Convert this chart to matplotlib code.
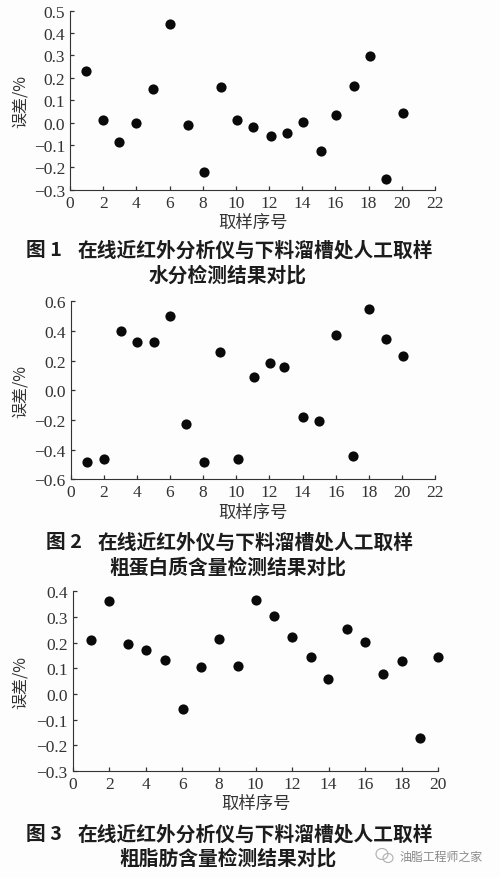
import matplotlib
matplotlib.use("Agg")
import matplotlib.pyplot as plt
from matplotlib.patches import Ellipse

# ================================
# Values
# ================================
x1 = [0.96, 1.99, 2.95, 4.0, 4.98, 6.0, 7.11, 8.05, 9.08, 10.06, 11.04, 12.09, 13.09, 14.04, 15.1, 16.04, 17.09, 18.11, 19.04, 20.06]
y1 = [0.23, 0.01, -0.086, -0.004, 0.151, 0.439, -0.013, -0.221, 0.159, 0.01, -0.019, -0.059, -0.045, 0.002, -0.126, 0.035, 0.165, 0.299, -0.251, 0.041]

x2 = [0.99, 2.0, 3.02, 4.0, 5.02, 6.0, 6.98, 8.08, 9.03, 10.1, 11.05, 12.03, 12.9, 14.0, 15.0, 16.0, 17.05, 18.02, 19.05, 20.08]
y2 = [-0.483, -0.465, 0.397, 0.323, 0.328, 0.503, -0.225, -0.48, 0.26, -0.463, 0.088, 0.187, 0.16, -0.182, -0.21, 0.375, -0.445, 0.546, 0.344, 0.232]

x3 = [1.02, 1.99, 3.03, 3.99, 5.05, 6.02, 7.04, 8.02, 9.04, 10.03, 11.03, 12.01, 13.02, 13.97, 15.02, 15.99, 16.99, 18.01, 19.0, 19.98]
y3 = [0.212, 0.364, 0.194, 0.173, 0.134, -0.057, 0.104, 0.214, 0.109, 0.365, 0.304, 0.223, 0.145, 0.058, 0.252, 0.203, 0.077, 0.13, -0.17, 0.145]

xticks12 = list(range(0, 23, 2))
xticks3 = list(range(0, 21, 2))
yticks1 = [-0.3, -0.2, -0.1, 0.0, 0.1, 0.2, 0.3, 0.4, 0.5]
yticks2 = [-0.6, -0.4, -0.2, 0.0, 0.2, 0.4, 0.6]
yticks3 = [-0.3, -0.2, -0.1, 0.0, 0.1, 0.2, 0.3, 0.4]

caption1 = ["图 1", "在线近红外分析仪与下料溜槽处人工取样", "水分检测结果对比"]
caption2 = ["图 2", "在线近红外仪与下料溜槽处人工取样", "粗蛋白质含量检测结果对比"]
caption3 = ["图 3", "在线近红外分析仪与下料溜槽处人工取样", "粗脂肪含量检测结果对比"]

W, H = 500, 879
CJK = ["Noto Sans CJK SC", "DejaVu Sans"]
SERIF = ["Liberation Serif", "DejaVu Serif"]
INK = "#333333"

fig = plt.figure(figsize=(W / 100, H / 100), dpi=100, facecolor="#fdfdfd")


def panel(left, right, top, bottom, xs, ys, xticks, yticks, xlabel_x, xlabel_y, ylabel_x):
    ax = fig.add_axes([left / W, 1 - bottom / H, (right - left) / W, (bottom - top) / H])
    ax.set_facecolor("none")
    ax.scatter(xs, ys, s=54, color="#0a0a0a", linewidths=0, zorder=3, clip_on=False)
    ax.set_xlim(xticks[0], xticks[-1])
    ax.set_ylim(yticks[0], yticks[-1])
    ax.set_xticks(xticks)
    ax.set_yticks(yticks)
    ax.set_yticklabels([f"{v:.1f}".replace("-", "\u2212") for v in yticks])
    ax.tick_params(direction="in", length=3, width=0.9, color=INK, labelcolor=INK, pad=3.5, labelsize=12.5)
    for lab in ax.get_xticklabels() + ax.get_yticklabels():
        lab.set_family(SERIF)
    ax.spines["top"].set_visible(False)
    ax.spines["right"].set_visible(False)
    ax.spines["left"].set_color(INK)
    ax.spines["bottom"].set_color(INK)
    fig.text(xlabel_x / W, 1 - xlabel_y / H, "取样序号", family=CJK, fontsize=12.5, color=INK, ha="center", va="center")
    fig.text(ylabel_x / W, 1 - ((top + bottom) / 2) / H, "误差/%", family=CJK, fontsize=11.5, color=INK,
             rotation=90, ha="center", va="center")


def caption(lines, tag_x, text_x, y1_px, center_x, y2_px):
    kw = dict(family=CJK, fontsize=14.2, fontweight="bold", color="#1c1c1c", va="center")
    fig.text(tag_x / W, 1 - y1_px / H, lines[0], ha="left", **kw)
    fig.text(text_x / W, 1 - y1_px / H, lines[1], ha="left", **kw)
    fig.text(center_x / W, 1 - y2_px / H, lines[2], ha="center", **kw)


panel(70, 435, 11.7, 190.7, x1, y1, xticks12, yticks1, 253, 223, 20)
caption(caption1, 26, 78, 251, 228, 276)

panel(70.7, 435, 302.3, 480.3, x2, y2, xticks12, yticks2, 253, 513, 20)
caption(caption2, 46, 98, 543, 228, 568)

panel(72.7, 438.3, 592.3, 772, x3, y3, xticks3, yticks3, 256, 804, 20)
caption(caption3, 26, 78, 835, 228, 859)

# watermark at the lower right, with the chat-bubble icon
fig.text(400 / W, 1 - 857 / H, "油脂工程师之家", family=CJK, fontsize=8.6, color="#8a8a8a", ha="left", va="center")
fig.add_artist(Ellipse((382 / W, 1 - 855 / H), 12 / W, 11 / H, fill=False, edgecolor="#b0b0b0", linewidth=0.8,
                       transform=fig.transFigure))
fig.add_artist(Ellipse((388 / W, 1 - 859 / H), 10 / W, 9 / H, fill=False, edgecolor="#b0b0b0", linewidth=0.8,
                       transform=fig.transFigure))

fig.savefig("out.png", dpi=100, facecolor=fig.get_facecolor())
